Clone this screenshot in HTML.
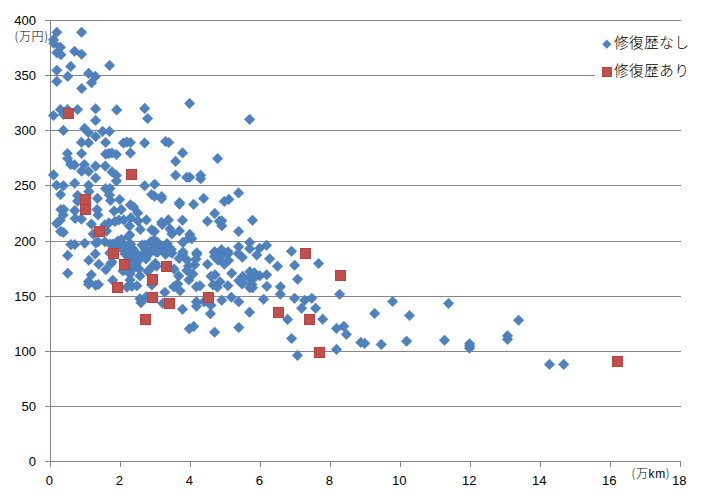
<!DOCTYPE html>
<html><head><meta charset="utf-8"><style>
html,body{margin:0;padding:0;background:#fff;}
body{width:706px;height:502px;overflow:hidden;}
svg{display:block;}
.num{font-family:"Liberation Sans","Noto Sans CJK JP",sans-serif;font-size:13.1px;fill:#000;}
.cjk{font-family:"Liberation Sans","Noto Sans CJK JP",sans-serif;fill:#000;}
</style></head><body>
<svg width="706" height="502" viewBox="0 0 706 502">
<rect width="706" height="502" fill="#fff"/>
<g stroke="#868686" stroke-width="1" shape-rendering="crispEdges"><line x1="45" y1="20.5" x2="681" y2="20.5"/><line x1="45" y1="75.5" x2="681" y2="75.5"/><line x1="45" y1="130.5" x2="681" y2="130.5"/><line x1="45" y1="185.5" x2="681" y2="185.5"/><line x1="45" y1="241.5" x2="681" y2="241.5"/><line x1="45" y1="296.5" x2="681" y2="296.5"/><line x1="45" y1="351.5" x2="681" y2="351.5"/><line x1="45" y1="406.5" x2="681" y2="406.5"/><line x1="45" y1="461.5" x2="50" y2="461.5"/>
<line x1="50.5" y1="20" x2="50.5" y2="462"/>
<line x1="45" y1="461.5" x2="681" y2="461.5"/><line x1="50.5" y1="461" x2="50.5" y2="467"/><line x1="120.5" y1="461" x2="120.5" y2="467"/><line x1="190.5" y1="461" x2="190.5" y2="467"/><line x1="260.5" y1="461" x2="260.5" y2="467"/><line x1="330.5" y1="461" x2="330.5" y2="467"/><line x1="400.5" y1="461" x2="400.5" y2="467"/><line x1="470.5" y1="461" x2="470.5" y2="467"/><line x1="540.5" y1="461" x2="540.5" y2="467"/><line x1="610.5" y1="461" x2="610.5" y2="467"/><line x1="680.5" y1="461" x2="680.5" y2="467"/>
</g>
<path fill="#4f81bd" stroke="#4a7ebb" stroke-width="0.5" d="M56.8 27l5.3 5.3l-5.3 5.3l-5.3 -5.3zM81.6 27l5.3 5.3l-5.3 5.3l-5.3 -5.3zM53.5 34.5l5.3 5.3l-5.3 5.3l-5.3 -5.3zM53.8 38l5.3 5.3l-5.3 5.3l-5.3 -5.3zM60.4 42l5.3 5.3l-5.3 5.3l-5.3 -5.3zM56.8 47.4l5.3 5.3l-5.3 5.3l-5.3 -5.3zM60.9 49.4l5.3 5.3l-5.3 5.3l-5.3 -5.3zM74.6 46l5.3 5.3l-5.3 5.3l-5.3 -5.3zM81.6 48.9l5.3 5.3l-5.3 5.3l-5.3 -5.3zM56.8 65l5.3 5.3l-5.3 5.3l-5.3 -5.3zM70.7 61.1l5.3 5.3l-5.3 5.3l-5.3 -5.3zM67.7 71.1l5.3 5.3l-5.3 5.3l-5.3 -5.3zM56.8 76.1l5.3 5.3l-5.3 5.3l-5.3 -5.3zM88.6 68.1l5.3 5.3l-5.3 5.3l-5.3 -5.3zM95.3 71.1l5.3 5.3l-5.3 5.3l-5.3 -5.3zM91.6 77.4l5.3 5.3l-5.3 5.3l-5.3 -5.3zM81.7 83.2l5.3 5.3l-5.3 5.3l-5.3 -5.3zM109.6 60.1l5.3 5.3l-5.3 5.3l-5.3 -5.3zM60.4 104.2l5.3 5.3l-5.3 5.3l-5.3 -5.3zM67.5 104.2l5.3 5.3l-5.3 5.3l-5.3 -5.3zM63.6 109.2l5.3 5.3l-5.3 5.3l-5.3 -5.3zM53.5 110.2l5.3 5.3l-5.3 5.3l-5.3 -5.3zM77.6 104.2l5.3 5.3l-5.3 5.3l-5.3 -5.3zM95.6 103.5l5.3 5.3l-5.3 5.3l-5.3 -5.3zM95.6 115.1l5.3 5.3l-5.3 5.3l-5.3 -5.3zM63.4 125.1l5.3 5.3l-5.3 5.3l-5.3 -5.3zM84.6 123.1l5.3 5.3l-5.3 5.3l-5.3 -5.3zM88.3 127.1l5.3 5.3l-5.3 5.3l-5.3 -5.3zM95.6 131.3l5.3 5.3l-5.3 5.3l-5.3 -5.3zM102.6 126.1l5.3 5.3l-5.3 5.3l-5.3 -5.3zM109.5 126.1l5.3 5.3l-5.3 5.3l-5.3 -5.3zM81.4 137.1l5.3 5.3l-5.3 5.3l-5.3 -5.3zM88.6 137.5l5.3 5.3l-5.3 5.3l-5.3 -5.3zM105.6 137.2l5.3 5.3l-5.3 5.3l-5.3 -5.3zM116.7 104.6l5.3 5.3l-5.3 5.3l-5.3 -5.3zM144.7 103.1l5.3 5.3l-5.3 5.3l-5.3 -5.3zM147.6 113.2l5.3 5.3l-5.3 5.3l-5.3 -5.3zM189.6 98.1l5.3 5.3l-5.3 5.3l-5.3 -5.3zM249.6 114.1l5.3 5.3l-5.3 5.3l-5.3 -5.3zM67.4 148.2l5.3 5.3l-5.3 5.3l-5.3 -5.3zM81.6 148.2l5.3 5.3l-5.3 5.3l-5.3 -5.3zM67.5 153.2l5.3 5.3l-5.3 5.3l-5.3 -5.3zM70.6 159.1l5.3 5.3l-5.3 5.3l-5.3 -5.3zM74.5 159.6l5.3 5.3l-5.3 5.3l-5.3 -5.3zM84.4 159.2l5.3 5.3l-5.3 5.3l-5.3 -5.3zM81.6 165.8l5.3 5.3l-5.3 5.3l-5.3 -5.3zM88.7 166.2l5.3 5.3l-5.3 5.3l-5.3 -5.3zM95.6 160.8l5.3 5.3l-5.3 5.3l-5.3 -5.3zM95.6 172.7l5.3 5.3l-5.3 5.3l-5.3 -5.3zM105.3 160.8l5.3 5.3l-5.3 5.3l-5.3 -5.3zM105.7 148.8l5.3 5.3l-5.3 5.3l-5.3 -5.3zM53.5 169.6l5.3 5.3l-5.3 5.3l-5.3 -5.3zM56.5 180l5.3 5.3l-5.3 5.3l-5.3 -5.3zM63.4 180.5l5.3 5.3l-5.3 5.3l-5.3 -5.3zM74.7 178l5.3 5.3l-5.3 5.3l-5.3 -5.3zM88.6 180l5.3 5.3l-5.3 5.3l-5.3 -5.3zM111.9 147.7l5.3 5.3l-5.3 5.3l-5.3 -5.3zM116.4 149.2l5.3 5.3l-5.3 5.3l-5.3 -5.3zM112 166.6l5.3 5.3l-5.3 5.3l-5.3 -5.3zM116.4 170.1l5.3 5.3l-5.3 5.3l-5.3 -5.3zM116.4 175.6l5.3 5.3l-5.3 5.3l-5.3 -5.3zM105.5 183.2l5.3 5.3l-5.3 5.3l-5.3 -5.3zM110 183.2l5.3 5.3l-5.3 5.3l-5.3 -5.3zM123.4 137.7l5.3 5.3l-5.3 5.3l-5.3 -5.3zM130.4 137.2l5.3 5.3l-5.3 5.3l-5.3 -5.3zM144.6 137.7l5.3 5.3l-5.3 5.3l-5.3 -5.3zM130.4 147.7l5.3 5.3l-5.3 5.3l-5.3 -5.3zM144.6 180.5l5.3 5.3l-5.3 5.3l-5.3 -5.3zM154.6 179l5.3 5.3l-5.3 5.3l-5.3 -5.3zM165.5 136.2l5.3 5.3l-5.3 5.3l-5.3 -5.3zM168.8 137.2l5.3 5.3l-5.3 5.3l-5.3 -5.3zM182.6 147.6l5.3 5.3l-5.3 5.3l-5.3 -5.3zM175.6 156.1l5.3 5.3l-5.3 5.3l-5.3 -5.3zM217.6 153.2l5.3 5.3l-5.3 5.3l-5.3 -5.3zM175.6 170l5.3 5.3l-5.3 5.3l-5.3 -5.3zM186.7 172l5.3 5.3l-5.3 5.3l-5.3 -5.3zM189.7 172l5.3 5.3l-5.3 5.3l-5.3 -5.3zM200.6 170l5.3 5.3l-5.3 5.3l-5.3 -5.3zM200.6 173.5l5.3 5.3l-5.3 5.3l-5.3 -5.3zM60.6 189.3l5.3 5.3l-5.3 5.3l-5.3 -5.3zM77.6 190.1l5.3 5.3l-5.3 5.3l-5.3 -5.3zM77.6 195.8l5.3 5.3l-5.3 5.3l-5.3 -5.3zM60.9 204.3l5.3 5.3l-5.3 5.3l-5.3 -5.3zM63.8 204.3l5.3 5.3l-5.3 5.3l-5.3 -5.3zM63.1 209.6l5.3 5.3l-5.3 5.3l-5.3 -5.3zM74.8 205.3l5.3 5.3l-5.3 5.3l-5.3 -5.3zM75.2 213.2l5.3 5.3l-5.3 5.3l-5.3 -5.3zM81.4 213.8l5.3 5.3l-5.3 5.3l-5.3 -5.3zM88.9 186.3l5.3 5.3l-5.3 5.3l-5.3 -5.3zM109.4 189.6l5.3 5.3l-5.3 5.3l-5.3 -5.3zM97.4 193.1l5.3 5.3l-5.3 5.3l-5.3 -5.3zM110.5 195.2l5.3 5.3l-5.3 5.3l-5.3 -5.3zM119.7 194.2l5.3 5.3l-5.3 5.3l-5.3 -5.3zM130.4 199.6l5.3 5.3l-5.3 5.3l-5.3 -5.3zM133.5 201.6l5.3 5.3l-5.3 5.3l-5.3 -5.3zM97.1 204.3l5.3 5.3l-5.3 5.3l-5.3 -5.3zM114.1 205.8l5.3 5.3l-5.3 5.3l-5.3 -5.3zM121.2 204.3l5.3 5.3l-5.3 5.3l-5.3 -5.3zM151.6 189.2l5.3 5.3l-5.3 5.3l-5.3 -5.3zM154.5 191l5.3 5.3l-5.3 5.3l-5.3 -5.3zM161.6 191.2l5.3 5.3l-5.3 5.3l-5.3 -5.3zM161.6 193.5l5.3 5.3l-5.3 5.3l-5.3 -5.3zM179.5 197.3l5.3 5.3l-5.3 5.3l-5.3 -5.3zM179.5 198.8l5.3 5.3l-5.3 5.3l-5.3 -5.3zM203.6 193.1l5.3 5.3l-5.3 5.3l-5.3 -5.3zM193.6 199.1l5.3 5.3l-5.3 5.3l-5.3 -5.3zM224.3 196.1l5.3 5.3l-5.3 5.3l-5.3 -5.3zM228.8 194.1l5.3 5.3l-5.3 5.3l-5.3 -5.3zM238.6 187.6l5.3 5.3l-5.3 5.3l-5.3 -5.3zM214.7 208.1l5.3 5.3l-5.3 5.3l-5.3 -5.3zM207.4 216l5.3 5.3l-5.3 5.3l-5.3 -5.3zM219.3 216l5.3 5.3l-5.3 5.3l-5.3 -5.3zM221.8 215.5l5.3 5.3l-5.3 5.3l-5.3 -5.3zM221.8 220.5l5.3 5.3l-5.3 5.3l-5.3 -5.3zM182.5 215l5.3 5.3l-5.3 5.3l-5.3 -5.3zM252.5 215l5.3 5.3l-5.3 5.3l-5.3 -5.3zM56.7 218.2l5.3 5.3l-5.3 5.3l-5.3 -5.3zM60.2 215l5.3 5.3l-5.3 5.3l-5.3 -5.3zM60.6 226.2l5.3 5.3l-5.3 5.3l-5.3 -5.3zM63.4 227.1l5.3 5.3l-5.3 5.3l-5.3 -5.3zM91.4 218.8l5.3 5.3l-5.3 5.3l-5.3 -5.3zM93.2 228.8l5.3 5.3l-5.3 5.3l-5.3 -5.3zM70.9 239.3l5.3 5.3l-5.3 5.3l-5.3 -5.3zM74.7 239.3l5.3 5.3l-5.3 5.3l-5.3 -5.3zM84.7 238l5.3 5.3l-5.3 5.3l-5.3 -5.3zM98 209.7l5.3 5.3l-5.3 5.3l-5.3 -5.3zM137.8 207.7l5.3 5.3l-5.3 5.3l-5.3 -5.3zM146.3 214.6l5.3 5.3l-5.3 5.3l-5.3 -5.3zM130.8 212.6l5.3 5.3l-5.3 5.3l-5.3 -5.3zM123.8 214.6l5.3 5.3l-5.3 5.3l-5.3 -5.3zM118.9 214.7l5.3 5.3l-5.3 5.3l-5.3 -5.3zM108.9 217.6l5.3 5.3l-5.3 5.3l-5.3 -5.3zM104.9 219.6l5.3 5.3l-5.3 5.3l-5.3 -5.3zM138 215.7l5.3 5.3l-5.3 5.3l-5.3 -5.3zM140.3 224.1l5.3 5.3l-5.3 5.3l-5.3 -5.3zM129.8 229.7l5.3 5.3l-5.3 5.3l-5.3 -5.3zM151.7 224.6l5.3 5.3l-5.3 5.3l-5.3 -5.3zM98 236.5l5.3 5.3l-5.3 5.3l-5.3 -5.3zM104.9 236.5l5.3 5.3l-5.3 5.3l-5.3 -5.3zM117.9 235.7l5.3 5.3l-5.3 5.3l-5.3 -5.3zM122.8 238.5l5.3 5.3l-5.3 5.3l-5.3 -5.3zM130.5 238.7l5.3 5.3l-5.3 5.3l-5.3 -5.3zM144.8 239.7l5.3 5.3l-5.3 5.3l-5.3 -5.3zM150.7 236.5l5.3 5.3l-5.3 5.3l-5.3 -5.3zM161.5 217.1l5.3 5.3l-5.3 5.3l-5.3 -5.3zM168.4 214.6l5.3 5.3l-5.3 5.3l-5.3 -5.3zM169.9 223.6l5.3 5.3l-5.3 5.3l-5.3 -5.3zM171.9 228.6l5.3 5.3l-5.3 5.3l-5.3 -5.3zM179.4 225.6l5.3 5.3l-5.3 5.3l-5.3 -5.3zM189.8 229.1l5.3 5.3l-5.3 5.3l-5.3 -5.3zM189.3 232.6l5.3 5.3l-5.3 5.3l-5.3 -5.3zM182.9 237.1l5.3 5.3l-5.3 5.3l-5.3 -5.3zM154.5 226.1l5.3 5.3l-5.3 5.3l-5.3 -5.3zM154 234.6l5.3 5.3l-5.3 5.3l-5.3 -5.3zM160 239.6l5.3 5.3l-5.3 5.3l-5.3 -5.3zM168 241.6l5.3 5.3l-5.3 5.3l-5.3 -5.3zM156 246.6l5.3 5.3l-5.3 5.3l-5.3 -5.3zM170 246.6l5.3 5.3l-5.3 5.3l-5.3 -5.3zM183 246.6l5.3 5.3l-5.3 5.3l-5.3 -5.3zM196.8 247.5l5.3 5.3l-5.3 5.3l-5.3 -5.3zM214.7 246.5l5.3 5.3l-5.3 5.3l-5.3 -5.3zM238.6 226.1l5.3 5.3l-5.3 5.3l-5.3 -5.3zM249.7 237.1l5.3 5.3l-5.3 5.3l-5.3 -5.3zM238.6 241.5l5.3 5.3l-5.3 5.3l-5.3 -5.3zM249.7 243.5l5.3 5.3l-5.3 5.3l-5.3 -5.3zM259.6 243l5.3 5.3l-5.3 5.3l-5.3 -5.3zM266.6 240l5.3 5.3l-5.3 5.3l-5.3 -5.3zM221.5 244.5l5.3 5.3l-5.3 5.3l-5.3 -5.3zM228 246.5l5.3 5.3l-5.3 5.3l-5.3 -5.3zM291.5 246l5.3 5.3l-5.3 5.3l-5.3 -5.3zM110.2 238.7l5.3 5.3l-5.3 5.3l-5.3 -5.3zM67.7 250.1l5.3 5.3l-5.3 5.3l-5.3 -5.3zM88.8 255l5.3 5.3l-5.3 5.3l-5.3 -5.3zM95.3 248.6l5.3 5.3l-5.3 5.3l-5.3 -5.3zM98.8 259l5.3 5.3l-5.3 5.3l-5.3 -5.3zM105.8 264.5l5.3 5.3l-5.3 5.3l-5.3 -5.3zM110.7 258.5l5.3 5.3l-5.3 5.3l-5.3 -5.3zM109.7 247.6l5.3 5.3l-5.3 5.3l-5.3 -5.3zM67.7 268l5.3 5.3l-5.3 5.3l-5.3 -5.3zM91.3 269.5l5.3 5.3l-5.3 5.3l-5.3 -5.3zM88.5 276.2l5.3 5.3l-5.3 5.3l-5.3 -5.3zM98.5 279.2l5.3 5.3l-5.3 5.3l-5.3 -5.3zM112.7 274.9l5.3 5.3l-5.3 5.3l-5.3 -5.3zM113 238.7l5.3 5.3l-5.3 5.3l-5.3 -5.3zM119 238.7l5.3 5.3l-5.3 5.3l-5.3 -5.3zM130 239.7l5.3 5.3l-5.3 5.3l-5.3 -5.3zM142 239.7l5.3 5.3l-5.3 5.3l-5.3 -5.3zM155 238.7l5.3 5.3l-5.3 5.3l-5.3 -5.3zM116 243.7l5.3 5.3l-5.3 5.3l-5.3 -5.3zM122 243.7l5.3 5.3l-5.3 5.3l-5.3 -5.3zM127 243.7l5.3 5.3l-5.3 5.3l-5.3 -5.3zM133 243.7l5.3 5.3l-5.3 5.3l-5.3 -5.3zM145 243.7l5.3 5.3l-5.3 5.3l-5.3 -5.3zM152 243.7l5.3 5.3l-5.3 5.3l-5.3 -5.3zM158 243.7l5.3 5.3l-5.3 5.3l-5.3 -5.3zM125 248.7l5.3 5.3l-5.3 5.3l-5.3 -5.3zM131 248.7l5.3 5.3l-5.3 5.3l-5.3 -5.3zM137 248.7l5.3 5.3l-5.3 5.3l-5.3 -5.3zM143 248.7l5.3 5.3l-5.3 5.3l-5.3 -5.3zM149 248.7l5.3 5.3l-5.3 5.3l-5.3 -5.3zM129 253.7l5.3 5.3l-5.3 5.3l-5.3 -5.3zM134 253.7l5.3 5.3l-5.3 5.3l-5.3 -5.3zM140 253.7l5.3 5.3l-5.3 5.3l-5.3 -5.3zM146 253.7l5.3 5.3l-5.3 5.3l-5.3 -5.3zM155.3 258.1l5.3 5.3l-5.3 5.3l-5.3 -5.3zM151 262.6l5.3 5.3l-5.3 5.3l-5.3 -5.3zM130 258.6l5.3 5.3l-5.3 5.3l-5.3 -5.3zM136 258.6l5.3 5.3l-5.3 5.3l-5.3 -5.3zM126 263.6l5.3 5.3l-5.3 5.3l-5.3 -5.3zM133 263.6l5.3 5.3l-5.3 5.3l-5.3 -5.3zM139 263.6l5.3 5.3l-5.3 5.3l-5.3 -5.3zM112 256.6l5.3 5.3l-5.3 5.3l-5.3 -5.3zM191.8 233.3l5.3 5.3l-5.3 5.3l-5.3 -5.3zM157.1 236.8l5.3 5.3l-5.3 5.3l-5.3 -5.3zM167 238.3l5.3 5.3l-5.3 5.3l-5.3 -5.3zM162.1 241.8l5.3 5.3l-5.3 5.3l-5.3 -5.3zM171.3 244l5.3 5.3l-5.3 5.3l-5.3 -5.3zM157.8 246.8l5.3 5.3l-5.3 5.3l-5.3 -5.3zM165.6 249l5.3 5.3l-5.3 5.3l-5.3 -5.3zM172 247.8l5.3 5.3l-5.3 5.3l-5.3 -5.3zM182.6 249l5.3 5.3l-5.3 5.3l-5.3 -5.3zM179.1 253.2l5.3 5.3l-5.3 5.3l-5.3 -5.3zM186.9 254.7l5.3 5.3l-5.3 5.3l-5.3 -5.3zM196.8 249.2l5.3 5.3l-5.3 5.3l-5.3 -5.3zM196 253.8l5.3 5.3l-5.3 5.3l-5.3 -5.3zM194.7 259.5l5.3 5.3l-5.3 5.3l-5.3 -5.3zM188.3 260.9l5.3 5.3l-5.3 5.3l-5.3 -5.3zM186.9 265.2l5.3 5.3l-5.3 5.3l-5.3 -5.3zM156.4 260.9l5.3 5.3l-5.3 5.3l-5.3 -5.3zM174.1 263.8l5.3 5.3l-5.3 5.3l-5.3 -5.3zM207.5 259l5.3 5.3l-5.3 5.3l-5.3 -5.3zM214.4 247.2l5.3 5.3l-5.3 5.3l-5.3 -5.3zM221.4 244.7l5.3 5.3l-5.3 5.3l-5.3 -5.3zM227.9 248.7l5.3 5.3l-5.3 5.3l-5.3 -5.3zM218 254.8l5.3 5.3l-5.3 5.3l-5.3 -5.3zM224.4 258.8l5.3 5.3l-5.3 5.3l-5.3 -5.3zM242.3 252l5.3 5.3l-5.3 5.3l-5.3 -5.3zM256.8 249.7l5.3 5.3l-5.3 5.3l-5.3 -5.3zM269.7 253.5l5.3 5.3l-5.3 5.3l-5.3 -5.3zM231.7 268l5.3 5.3l-5.3 5.3l-5.3 -5.3zM211 271l5.3 5.3l-5.3 5.3l-5.3 -5.3zM215 269.5l5.3 5.3l-5.3 5.3l-5.3 -5.3zM219.9 276.4l5.3 5.3l-5.3 5.3l-5.3 -5.3zM213 279.6l5.3 5.3l-5.3 5.3l-5.3 -5.3zM200 280.4l5.3 5.3l-5.3 5.3l-5.3 -5.3zM227.9 280.4l5.3 5.3l-5.3 5.3l-5.3 -5.3zM242.7 271.1l5.3 5.3l-5.3 5.3l-5.3 -5.3zM249.8 266.5l5.3 5.3l-5.3 5.3l-5.3 -5.3zM254.3 267.5l5.3 5.3l-5.3 5.3l-5.3 -5.3zM259.8 270.5l5.3 5.3l-5.3 5.3l-5.3 -5.3zM266.7 269.5l5.3 5.3l-5.3 5.3l-5.3 -5.3zM252.6 282.4l5.3 5.3l-5.3 5.3l-5.3 -5.3zM249.8 282.4l5.3 5.3l-5.3 5.3l-5.3 -5.3zM266.8 281l5.3 5.3l-5.3 5.3l-5.3 -5.3zM277.5 261l5.3 5.3l-5.3 5.3l-5.3 -5.3zM294.6 260l5.3 5.3l-5.3 5.3l-5.3 -5.3zM318.6 258.2l5.3 5.3l-5.3 5.3l-5.3 -5.3zM297.6 273.9l5.3 5.3l-5.3 5.3l-5.3 -5.3zM280.4 281.4l5.3 5.3l-5.3 5.3l-5.3 -5.3zM340 270.1l5.3 5.3l-5.3 5.3l-5.3 -5.3zM123 265.6l5.3 5.3l-5.3 5.3l-5.3 -5.3zM130 268.6l5.3 5.3l-5.3 5.3l-5.3 -5.3zM139.9 270.6l5.3 5.3l-5.3 5.3l-5.3 -5.3zM147.8 266.1l5.3 5.3l-5.3 5.3l-5.3 -5.3zM130 274.6l5.3 5.3l-5.3 5.3l-5.3 -5.3zM126.9 282l5.3 5.3l-5.3 5.3l-5.3 -5.3zM131.9 281l5.3 5.3l-5.3 5.3l-5.3 -5.3zM136.9 280.5l5.3 5.3l-5.3 5.3l-5.3 -5.3zM151.8 279.6l5.3 5.3l-5.3 5.3l-5.3 -5.3zM139.9 293.5l5.3 5.3l-5.3 5.3l-5.3 -5.3zM140.9 297.5l5.3 5.3l-5.3 5.3l-5.3 -5.3zM164.8 287l5.3 5.3l-5.3 5.3l-5.3 -5.3zM162.8 298l5.3 5.3l-5.3 5.3l-5.3 -5.3zM173.7 281.5l5.3 5.3l-5.3 5.3l-5.3 -5.3zM177.7 278.5l5.3 5.3l-5.3 5.3l-5.3 -5.3zM178.7 270.6l5.3 5.3l-5.3 5.3l-5.3 -5.3zM192.9 268.6l5.3 5.3l-5.3 5.3l-5.3 -5.3zM188.9 274.6l5.3 5.3l-5.3 5.3l-5.3 -5.3zM180 285.5l5.3 5.3l-5.3 5.3l-5.3 -5.3zM196.4 281.5l5.3 5.3l-5.3 5.3l-5.3 -5.3zM217.3 282l5.3 5.3l-5.3 5.3l-5.3 -5.3zM196.4 296.5l5.3 5.3l-5.3 5.3l-5.3 -5.3zM196.4 301l5.3 5.3l-5.3 5.3l-5.3 -5.3zM203.9 296.5l5.3 5.3l-5.3 5.3l-5.3 -5.3zM210.9 300l5.3 5.3l-5.3 5.3l-5.3 -5.3zM221.8 295l5.3 5.3l-5.3 5.3l-5.3 -5.3zM231.3 292l5.3 5.3l-5.3 5.3l-5.3 -5.3zM238.7 296.5l5.3 5.3l-5.3 5.3l-5.3 -5.3zM182.5 303.9l5.3 5.3l-5.3 5.3l-5.3 -5.3zM210.4 308.4l5.3 5.3l-5.3 5.3l-5.3 -5.3zM242 278.6l5.3 5.3l-5.3 5.3l-5.3 -5.3zM280.3 289l5.3 5.3l-5.3 5.3l-5.3 -5.3zM263.6 294l5.3 5.3l-5.3 5.3l-5.3 -5.3zM294.6 293l5.3 5.3l-5.3 5.3l-5.3 -5.3zM304.7 295l5.3 5.3l-5.3 5.3l-5.3 -5.3zM301.6 302.9l5.3 5.3l-5.3 5.3l-5.3 -5.3zM249.5 306.9l5.3 5.3l-5.3 5.3l-5.3 -5.3zM287.6 314.1l5.3 5.3l-5.3 5.3l-5.3 -5.3zM339.6 289l5.3 5.3l-5.3 5.3l-5.3 -5.3zM311.8 293l5.3 5.3l-5.3 5.3l-5.3 -5.3zM315.6 303l5.3 5.3l-5.3 5.3l-5.3 -5.3zM322.7 313.9l5.3 5.3l-5.3 5.3l-5.3 -5.3zM392.6 296.2l5.3 5.3l-5.3 5.3l-5.3 -5.3zM374.7 308.2l5.3 5.3l-5.3 5.3l-5.3 -5.3zM409.5 310.2l5.3 5.3l-5.3 5.3l-5.3 -5.3zM448.5 298.1l5.3 5.3l-5.3 5.3l-5.3 -5.3zM444.5 335l5.3 5.3l-5.3 5.3l-5.3 -5.3zM469.6 338.4l5.3 5.3l-5.3 5.3l-5.3 -5.3zM469.6 340.6l5.3 5.3l-5.3 5.3l-5.3 -5.3zM469.6 343l5.3 5.3l-5.3 5.3l-5.3 -5.3zM507.5 330.5l5.3 5.3l-5.3 5.3l-5.3 -5.3zM507.5 334l5.3 5.3l-5.3 5.3l-5.3 -5.3zM518.6 315l5.3 5.3l-5.3 5.3l-5.3 -5.3zM549.5 359.1l5.3 5.3l-5.3 5.3l-5.3 -5.3zM563.7 359.1l5.3 5.3l-5.3 5.3l-5.3 -5.3zM336.5 323.1l5.3 5.3l-5.3 5.3l-5.3 -5.3zM343.8 321l5.3 5.3l-5.3 5.3l-5.3 -5.3zM346.4 329.1l5.3 5.3l-5.3 5.3l-5.3 -5.3zM360.8 337.1l5.3 5.3l-5.3 5.3l-5.3 -5.3zM364.7 338.1l5.3 5.3l-5.3 5.3l-5.3 -5.3zM381.3 339.1l5.3 5.3l-5.3 5.3l-5.3 -5.3zM406.6 335.9l5.3 5.3l-5.3 5.3l-5.3 -5.3zM336.5 344.1l5.3 5.3l-5.3 5.3l-5.3 -5.3zM238.8 322.2l5.3 5.3l-5.3 5.3l-5.3 -5.3zM291.6 333.2l5.3 5.3l-5.3 5.3l-5.3 -5.3zM297.5 350.1l5.3 5.3l-5.3 5.3l-5.3 -5.3zM189.3 323.5l5.3 5.3l-5.3 5.3l-5.3 -5.3zM193.7 321.1l5.3 5.3l-5.3 5.3l-5.3 -5.3zM214.6 326.9l5.3 5.3l-5.3 5.3l-5.3 -5.3zM129.5 220.7l5.3 5.3l-5.3 5.3l-5.3 -5.3zM114.9 216.2l5.3 5.3l-5.3 5.3l-5.3 -5.3zM121.3 234.2l5.3 5.3l-5.3 5.3l-5.3 -5.3zM128.4 231.1l5.3 5.3l-5.3 5.3l-5.3 -5.3zM214.5 251.3l5.3 5.3l-5.3 5.3l-5.3 -5.3zM228.5 255.2l5.3 5.3l-5.3 5.3l-5.3 -5.3zM221.5 250.7l5.3 5.3l-5.3 5.3l-5.3 -5.3zM238.2 248.2l5.3 5.3l-5.3 5.3l-5.3 -5.3zM126.7 136.8l5.3 5.3l-5.3 5.3l-5.3 -5.3zM108.8 148.2l5.3 5.3l-5.3 5.3l-5.3 -5.3zM238.8 275.4l5.3 5.3l-5.3 5.3l-5.3 -5.3zM242.7 277.8l5.3 5.3l-5.3 5.3l-5.3 -5.3zM249.1 272.9l5.3 5.3l-5.3 5.3l-5.3 -5.3zM254.7 272.2l5.3 5.3l-5.3 5.3l-5.3 -5.3zM251.9 279.3l5.3 5.3l-5.3 5.3l-5.3 -5.3zM95.8 237.7l5.3 5.3l-5.3 5.3l-5.3 -5.3zM162.2 219.2l5.3 5.3l-5.3 5.3l-5.3 -5.3zM106.5 225.7l5.3 5.3l-5.3 5.3l-5.3 -5.3zM88.5 278.9l5.3 5.3l-5.3 5.3l-5.3 -5.3zM95.7 280l5.3 5.3l-5.3 5.3l-5.3 -5.3zM146 291.6l5.3 5.3l-5.3 5.3l-5.3 -5.3z"/>
<g fill="#c0504d" stroke="#b8423f" stroke-width="1"><rect x="63.5" y="108.5" width="10" height="10"/><rect x="126.5" y="169.5" width="10" height="10"/><rect x="80.5" y="194.5" width="10" height="10"/><rect x="80.5" y="204.5" width="10" height="10"/><rect x="94.5" y="226.5" width="10" height="10"/><rect x="108.5" y="248.5" width="10" height="10"/><rect x="300.5" y="248.5" width="10" height="10"/><rect x="335.5" y="270.5" width="10" height="10"/><rect x="112.5" y="282.5" width="10" height="10"/><rect x="147.5" y="274.5" width="10" height="10"/><rect x="147.5" y="292.5" width="10" height="10"/><rect x="164.5" y="298.5" width="10" height="10"/><rect x="140.5" y="314.5" width="10" height="10"/><rect x="161.5" y="261.5" width="10" height="10"/><rect x="119.5" y="259.5" width="10" height="10"/><rect x="203.5" y="292.5" width="10" height="10"/><rect x="273.5" y="307.5" width="10" height="10"/><rect x="304.5" y="314.5" width="10" height="10"/><rect x="612.5" y="356.5" width="10" height="10"/><rect x="314.5" y="347.5" width="10" height="10"/></g>
<rect x="595" y="28" width="100" height="54" fill="#fff"/>
<path fill="#4f81bd" d="M606.8 39.6l4.6 4.6l-4.6 4.6l-4.6 -4.6z"/>
<rect x="602.5" y="67.5" width="9" height="9" fill="#c0504d" stroke="#b84845" stroke-width="1"/>
<g class="cjk" font-size="14.5px" font-weight="300" letter-spacing="0.6">
<text x="614" y="48">修復歴なし</text>
<text x="614" y="76">修復歴あり</text>
</g>
<g class="num" text-anchor="end"><text x="36" y="25.0">400</text><text x="36" y="80.0">350</text><text x="36" y="135.0">300</text><text x="36" y="190.0">250</text><text x="36" y="246.0">200</text><text x="36" y="301.0">150</text><text x="36" y="356.0">100</text><text x="36" y="411.0">50</text><text x="36" y="466.0">0</text></g>
<g class="num" text-anchor="middle"><text x="49.3" y="485">0</text><text x="119.3" y="485">2</text><text x="189.3" y="485">4</text><text x="259.3" y="485">6</text><text x="329.3" y="485">8</text><text x="399.3" y="485">10</text><text x="469.3" y="485">12</text><text x="539.3" y="485">14</text><text x="609.3" y="485">16</text><text x="679.3" y="485">18</text></g>
<g class="cjk" font-size="12px" letter-spacing="0.6" font-weight="300">
<text x="14.6" y="41"><tspan font-weight="300" font-family="'Noto Sans CJK JP',sans-serif">(</tspan>万円<tspan font-weight="300" font-family="'Noto Sans CJK JP',sans-serif">)</tspan></text>
<text x="631.6" y="477.5"><tspan font-weight="300" font-family="'Noto Sans CJK JP',sans-serif">(</tspan>万km<tspan font-weight="300" font-family="'Noto Sans CJK JP',sans-serif">)</tspan></text>
</g>
</svg>
</body></html>
